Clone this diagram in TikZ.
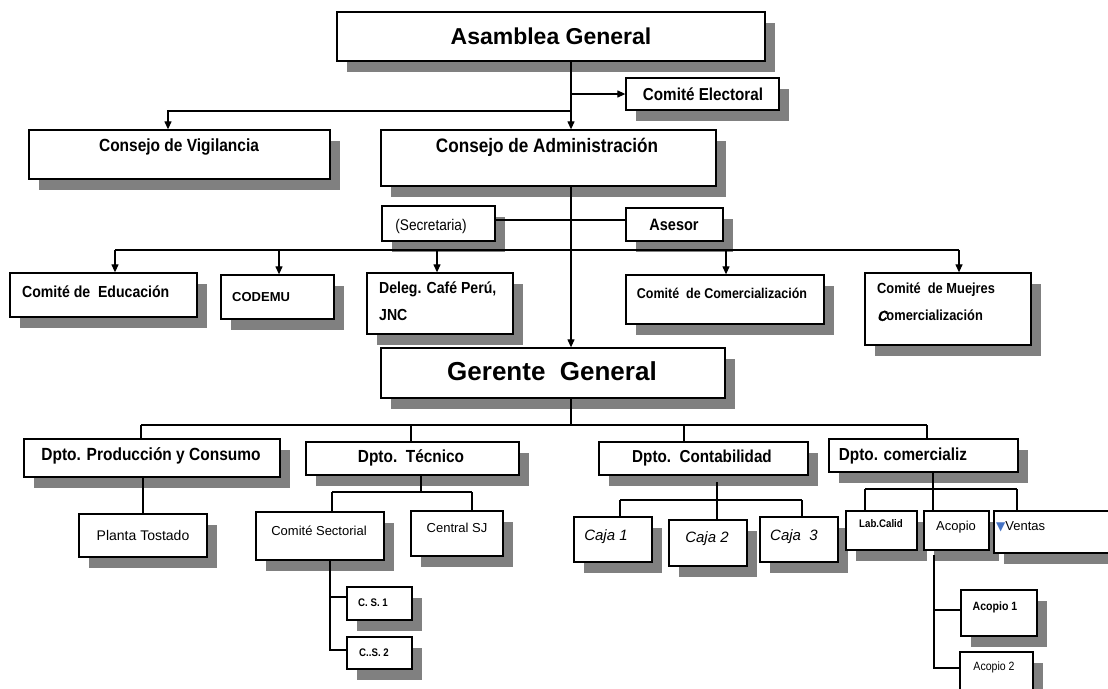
\documentclass[tikz,border=0pt]{standalone}
\usepackage{fontspec}
\setmainfont{Liberation Sans}
\newfontfamily\nar{Liberation Sans}[FakeStretch=0.88]
\newfontfamily\narbi{Liberation Sans}[FakeStretch=0.88, FakeSlant=0.25, FakeBold=1.5]
\newfontfamily\djv{DejaVu Sans}
\usetikzlibrary{arrows.meta,fit,shadows}
\definecolor{shd}{HTML}{808080}
\definecolor{tri}{HTML}{4472C4}
\tikzset{
  box/.style={draw, line width=1.3pt, fill=white, inner sep=0pt,
    drop shadow={shadow xshift=10pt, shadow yshift=-11pt, fill=shd, opacity=1}},
  ln/.style={line width=1.2pt},
  arr/.style={ln, -{Triangle[width=7pt,length=8pt]}},
  txt/.style={inner sep=0pt, align=left},
}
\newcommand\bx[5]{\path (#2,#3) coordinate (#1nw) (#4,#5) coordinate (#1se);
  \node[box, fit=(#1nw)(#1se)] (#1) {};}
\newcommand\fs[1]{\fontsize{#1}{#1}\selectfont}
\begin{document}
\begin{tikzpicture}[x=1pt,y=-1pt]
\useasboundingbox[fill=white] (0,0) rectangle (1108,688);
% ---- boxes
\bx{ag}{337}{12}{765}{61}
\bx{ce}{626}{78}{779}{110}
\bx{cv}{29}{130}{330}{179}
\bx{ca}{381}{130}{716}{186}
\bx{sec}{382}{206}{495}{241}
\bx{as}{626}{208}{723}{241}
\bx{ed}{10}{273}{197}{317}
\bx{cod}{221}{275}{334}{319}
\bx{del}{367}{273}{513}{334}
\bx{ccom}{626}{275}{824}{324}
\bx{muj}{865}{273}{1031}{345}
\bx{gg}{381}{348}{725}{398}
\bx{dp}{24}{439}{280}{477}
\bx{dt}{306}{442}{519}{475}
\bx{dc}{599}{442}{808}{475}
\bx{dm}{829}{439}{1018}{472}
\bx{pt}{79}{514}{207}{557}
\bx{cs}{256}{512}{384}{560}
\bx{sj}{411}{511}{503}{556}
\bx{cs1}{347}{587}{412}{620}
\bx{cs2}{347}{637}{412}{669}
\bx{cj1}{574}{517}{652}{562}
\bx{cj2}{669}{520}{747}{566}
\bx{cj3}{760}{517}{838}{562}
\bx{lab}{846}{511}{917}{550}
\bx{aco}{924}{511}{989}{550}
\bx{ven}{994}{511}{1120}{553}
\bx{ac1}{961}{590}{1037}{636}
\bx{ac2}{960}{652}{1033}{700}
% ---- texts
\node[txt] (tag) at (551,36) {\fs{23}\bfseries Asamblea General};
\node[txt] (tce) at (703,94) {\nar\fs{17.3}\bfseries Comité Electoral};
\node[txt] (tcv) at (179,147) {\nar\fs{17.6}\bfseries Consejo de Vigilancia};
\node[txt] (tca) at (547,147) {\nar\fs{19.5}\bfseries Consejo de Administración};
\node[txt] (tsec) at (431,226) {\nar\fs{15.5}(Secretaria)};
\node[txt] (tas) at (674,225) {\nar\fs{16.5}\bfseries Asesor};
\node[txt, anchor=west] (ted) at (22,292) {\nar\fs{16}\bfseries Comité de\ \ Educación};
\node[txt, anchor=west] (tcod) at (232,297) {\fs{13}\bfseries CODEMU};
\node[txt, anchor=north west, font={\nar\fs{16}\bfseries}] (tdel) at (379,282) {Deleg. Café Perú,\\[11pt]JNC};
\node[txt] (tccom) at (722,293) {\nar\fs{14.2}\bfseries Comité\ \ de Comercialización};
\node[txt, anchor=north west, font={\nar\fs{14.6}\bfseries}] (tmuj) at (877,283) {Comité\ \ de Muejres\\[12.4pt]{\narbi C}omercialización};
\node[txt] (tgg) at (552,371) {\fs{26}\bfseries Gerente\ \ General};
\node[txt] (tdp) at (151,456) {\nar\fs{17.6}\bfseries Dpto. Producción y Consumo};
\node[txt] (tdt) at (411,458) {\nar\fs{17.5}\bfseries Dpto.\ \ Técnico};
\node[txt] (tdc) at (702,458) {\nar\fs{17.3}\bfseries Dpto.\ \ Contabilidad};
\node[txt] (tdm) at (903,456) {\nar\fs{17.4}\bfseries Dpto. comercializ};
\node[txt] (tpt) at (143,535) {\fs{14}Planta Tostado};
\node[txt] (tcs) at (319,531) {\fs{13}Comité Sectorial};
\node[txt] (tsj) at (457,528) {\fs{13}Central SJ};
\node[txt] (tcs1) at (373,603) {\nar\fs{11}\bfseries C. S. 1};
\node[txt] (tcs2) at (374,653) {\nar\fs{11}\bfseries C..S. 2};
\node[txt] (tcj1) at (606,537) {\fs{15}\itshape Caja 1};
\node[txt] (tcj2) at (707,539) {\fs{15}\itshape Caja 2};
\node[txt] (tcj3) at (794,537) {\fs{15}\itshape Caja\ \ 3};
\node[txt] (tlab) at (881,524) {\nar\fs{11}\bfseries Lab.Calid};
\node[txt] (taco) at (956,527) {\fs{13}Acopio};
\node[txt, anchor=west] (tven) at (996,527) {{\djv\fs{12}\color{tri}▼}\fs{13}Ventas};
\node[txt] (tac1) at (995,607) {\nar\fs{12}\bfseries Acopio 1};
\node[txt] (tac2) at (994,667) {\nar\fs{12}Acopio 2};
% ---- connectors
\coordinate (spine) at (571,0);
\coordinate (j1) at (571,111);
\coordinate (vig) at (168,0);
\draw[arr] (spine |- ag.south) -- (spine |- ca.north);
\draw[arr] (spine |- ce.west) -- (ce.west);
\draw[arr] (j1) -| (vig |- cv.north);
\draw[arr] (spine |- ca.south) -- (spine |- gg.north);
\draw[ln] (sec.east |- 0,220) -- (as.west |- 0,220);
% comite bus
\coordinate (bL) at (115,250);
\coordinate (bR) at (959,250);
\draw[ln] (bL) -- (bR);
\draw[arr] (bL) -- (bL |- ed.north);
\draw[arr] (279,250) -- (279,0 |- cod.north);
\draw[arr] (437,250) -- (437,0 |- del.north);
\draw[arr] (726,250) -- (726,0 |- ccom.north);
\draw[arr] (bR) -- (bR |- muj.north);
% gerente bus
\coordinate (gL) at (141,425);
\coordinate (gR) at (927,425);
\draw[ln] (spine |- gg.south) -- (spine |- gL);
\draw[ln] (gL) -- (gR);
\draw[ln] (gL) -- (gL |- dp.north);
\draw[ln] (411,425) -- (411,0 |- dt.north);
\draw[ln] (684,425) -- (684,0 |- dc.north);
\draw[ln] (gR) -- (gR |- dm.north);
% produccion
\draw[ln] (143,0 |- dp.south) -- (143,0 |- pt.north);
% tecnico
\coordinate (tL) at (332,492);
\coordinate (tR) at (472,492);
\draw[ln] (421,0 |- dt.south) -- (421,492);
\draw[ln] (tL) -- (tR);
\draw[ln] (tL) -- (tL |- cs.north);
\draw[ln] (tR) -- (tR |- sj.north);
% comite sectorial
\coordinate (sv) at (330,597);
\coordinate (sw) at (330,650);
\draw[ln] (330,0 |- cs.south) -- (sw) -- (sw -| cs2.west);
\draw[ln] (sv) -- (sv -| cs1.west);
% contabilidad
\coordinate (kL) at (620,500);
\coordinate (kR) at (802,500);
\draw[ln] (717,482) -- (717,0 |- cj2.north);
\draw[ln] (kL) -- (kR);
\draw[ln] (kL) -- (kL |- cj1.north);
\draw[ln] (kR) -- (kR |- cj3.north);
% comercializ
\coordinate (mL) at (865,489);
\coordinate (mR) at (1017,489);
\draw[ln] (933,0 |- dm.south) -- (933,0 |- aco.north);
\draw[ln] (mL) -- (mR);
\draw[ln] (mL) -- (mL |- lab.north);
\draw[ln] (mR) -- (mR |- ven.north);
% acopio
\coordinate (av) at (934,610);
\coordinate (aw) at (934,668);
\draw[ln] (934,555) -- (aw) -- (aw -| ac2.west);
\draw[ln] (av) -- (av -| ac1.west);
\end{tikzpicture}
\end{document}
